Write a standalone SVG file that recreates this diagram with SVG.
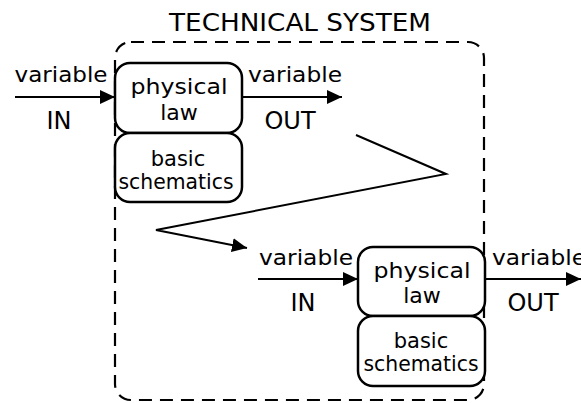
<svg xmlns="http://www.w3.org/2000/svg" width="581" height="403" viewBox="0 0 581 403">
<defs>
<style>
text{font-family:"DejaVu Sans",sans-serif;fill:#000;text-anchor:middle}
.lbl{font-size:22px}
.io{font-size:24px}
.sm{font-size:21px}
.box{fill:#fff;stroke:#000;stroke-width:2.5}
.conn{fill:none;stroke:#000;stroke-width:2}
.dash{fill:none;stroke:#000;stroke-width:2.2;stroke-dasharray:13 8}
</style>
<marker id="ah" markerUnits="userSpaceOnUse" markerWidth="16" markerHeight="16" refX="15" refY="7" orient="auto">
<path d="M0,0 L15,7 L0,14 Z" fill="#000"/>
</marker>
</defs>
<rect width="581" height="403" fill="#fff"/>
<g id="system">
<text x="300" y="31" style="font-size:25px" textLength="262" lengthAdjust="spacingAndGlyphs">TECHNICAL SYSTEM</text>
<rect class="dash" x="115" y="42" width="369" height="358" rx="16"/>
</g>
<g id="connectors">
<line class="conn" x1="15" y1="97" x2="115" y2="97" marker-end="url(#ah)"/>
<line class="conn" x1="242" y1="97" x2="342" y2="97" marker-end="url(#ah)"/>
<polyline class="conn" points="356,135 446,174 156,230 247,248" marker-end="url(#ah)"/>
<line class="conn" x1="258" y1="279" x2="358" y2="279" marker-end="url(#ah)"/>
<line class="conn" x1="485" y1="279" x2="581" y2="279" marker-end="url(#ah)"/>
</g>
<g id="labels">
<text class="lbl" x="61" y="82" textLength="93" lengthAdjust="spacingAndGlyphs">variable</text>
<text class="io" x="59" y="129">IN</text>
<text class="lbl" x="295" y="82" textLength="94" lengthAdjust="spacingAndGlyphs">variable</text>
<text class="io" x="290" y="129">OUT</text>
<text class="lbl" x="306" y="265" textLength="94" lengthAdjust="spacingAndGlyphs">variable</text>
<text class="io" x="303" y="311">IN</text>
<text class="lbl" x="539" y="265" textLength="94" lengthAdjust="spacingAndGlyphs">variable</text>
<text class="io" x="533" y="311">OUT</text>
</g>
<g id="law1">
<rect class="box" x="115" y="63" width="127" height="70" rx="15"/>
<text class="lbl" x="179" y="94" textLength="97" lengthAdjust="spacingAndGlyphs">physical</text>
<text class="lbl" x="179" y="120">law</text>
</g>
<g id="schem1">
<rect class="box" x="115" y="133" width="127" height="69" rx="15"/>
<text class="sm" x="178" y="166">basic</text>
<text class="sm" x="176" y="189" textLength="115" lengthAdjust="spacingAndGlyphs">schematics</text>
</g>
<g id="law2">
<rect class="box" x="358" y="247" width="127" height="69" rx="15"/>
<text class="lbl" x="422" y="278" textLength="97" lengthAdjust="spacingAndGlyphs">physical</text>
<text class="lbl" x="422" y="303">law</text>
</g>
<g id="schem2">
<rect class="box" x="358" y="316" width="127" height="70" rx="15"/>
<text class="sm" x="421" y="348">basic</text>
<text class="sm" x="421" y="371" textLength="115" lengthAdjust="spacingAndGlyphs">schematics</text>
</g>
</svg>
